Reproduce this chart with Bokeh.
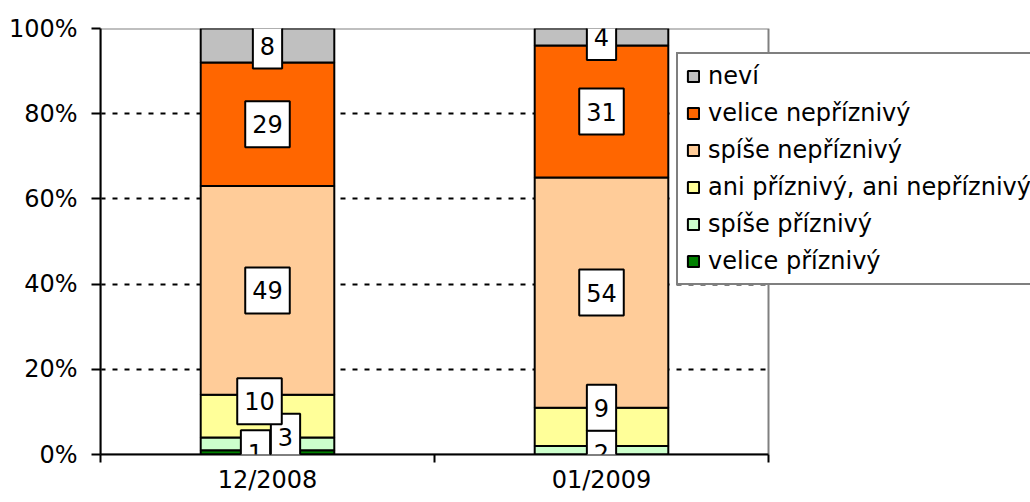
from bokeh.plotting import figure
from bokeh.models import (FixedTicker, Legend, LegendItem, Label, BoxAnnotation,
                          PrintfTickFormatter, ColumnDataSource, Range1d, LinearAxis)
from bokeh.embed import file_html
from bokeh.resources import INLINE

# ---- data ----
periods = ["12/2008", "01/2009"]
series = ["velice příznivý", "spíše příznivý", "ani příznivý, ani nepříznivý",
          "spíše nepříznivý", "velice nepříznivý", "neví"]
velice_priznivy = [1, 0]
spise_priznivy = [3, 2]
ani_ani = [10, 9]
spise_nepriznivy = [49, 54]
velice_nepriznivy = [29, 31]
nevi = [8, 4]
y_ticks = [0, 20, 40, 60, 80, 100]

values = [velice_priznivy, spise_priznivy, ani_ani, spise_nepriznivy, velice_nepriznivy, nevi]

# ---- styles / layout ----
colors = ["#008000", "#CCFFCC", "#FFFF99", "#FFCC99", "#FF6600", "#C0C0C0"]
FONT = "DejaVu Sans"
FS = "24px"
W, H = 1030, 502
LEFT, TOP, BOTTOM = 100, 28, 48
AREA_PX = 668                       # width of the plotted category area
FRAME_PX = W - LEFT                 # frame extends to the right edge (for legend)
# label displacement in screen pixels (series index, period index) -> (dx, dy)
label_shift = {(0, 0): (-12, -1), (1, 0): (18, 7), (2, 0): (-8, 15),
               (1, 1): (0, -3), (2, 1): (0, 19)}

n = len(periods)
xs = [i + 0.5 for i in range(n)]
keys = [f"s{i}" for i in range(len(series))]
data = {"x": xs}
for k, v in zip(keys, values):
    data[k] = v
source = ColumnDataSource(data)

p = figure(width=W, height=H, output_backend="svg", toolbar_location=None,
           x_range=Range1d(0, n * FRAME_PX / AREA_PX), y_range=Range1d(0, 100),
           min_border_left=LEFT, min_border_right=0, min_border_top=TOP,
           min_border_bottom=BOTTOM, x_axis_type=None)
p.outline_line_color = None
p.background_fill_color = "white"
p.border_fill_color = "white"

# plot-area border (gray)
p.add_layout(BoxAnnotation(left=0, right=n, bottom=0, top=100, fill_color=None,
                           line_color="#808080", line_alpha=1.0, line_width=2,
                           level="underlay"))

renderers = p.vbar_stack(keys, x="x", width=0.4, source=source, color=colors,
                         line_color="black", line_width=2)

# y axis
p.yaxis.ticker = FixedTicker(ticks=y_ticks)
p.yaxis.formatter = PrintfTickFormatter(format="%d%%")
p.yaxis.axis_line_width = 2
p.yaxis.axis_line_color = "black"
p.yaxis.major_tick_line_width = 2
p.yaxis.major_tick_in = 0
p.yaxis.major_tick_out = 9
p.yaxis.minor_tick_line_color = None
p.yaxis.major_label_standoff = 14
p.yaxis.major_label_text_font = FONT
p.yaxis.major_label_text_font_size = FS
p.yaxis.major_label_text_color = "black"

# x axis
xaxis = LinearAxis(ticker=FixedTicker(ticks=xs, minor_ticks=list(range(n + 1))),
                   bounds=(0, n))
xaxis.major_label_overrides = {x: lab for x, lab in zip(xs, periods)}
xaxis.axis_line_width = 2
xaxis.axis_line_color = "black"
xaxis.major_tick_line_color = None
xaxis.major_tick_in = 0
xaxis.major_tick_out = 0
xaxis.minor_tick_line_width = 2
xaxis.minor_tick_line_color = "black"
xaxis.minor_tick_in = 0
xaxis.minor_tick_out = 8
xaxis.major_label_standoff = 3
xaxis.major_label_text_font = FONT
xaxis.major_label_text_font_size = FS
xaxis.major_label_text_color = "black"
p.add_layout(xaxis, "below")

# grid
p.xgrid.grid_line_color = None
p.ygrid.ticker = FixedTicker(ticks=[t for t in y_ticks if 0 < t < 100])
p.ygrid.cross_bounds = (0, n)
p.ygrid.grid_line_color = "black"
p.ygrid.grid_line_width = 2
p.ygrid.grid_line_dash = "5 7"

# data labels
for si, vals in enumerate(values):
    base = [sum(values[j][pi] for j in range(si)) for pi in range(n)]
    for pi, v in enumerate(vals):
        if v <= 0:
            continue
        dx, dy = label_shift.get((si, pi), (0, 0))
        lab = Label(x=xs[pi], y=base[pi] + v / 2, text=str(v),
                    x_offset=dx, y_offset=dy,
                    text_align="center", text_baseline="middle",
                    text_font=FONT, text_font_size=FS, text_color="black",
                    background_fill_color="white", border_line_color="black",
                    border_line_width=2,
                    padding=dict(left=7, right=7, top=14, bottom=14))
        p.add_layout(lab)

# legend
items = [LegendItem(label=series[i], renderers=[renderers[i]]) for i in reversed(range(len(series)))]
legend = Legend(items=items, location=(576, 169), orientation="vertical",
                label_text_font=FONT, label_text_font_size=FS, label_text_color="black",
                glyph_width=14, glyph_height=14, label_height=27, label_standoff=8,
                spacing=9, padding=8, margin=0,
                border_line_color="black", border_line_width=2,
                background_fill_color="white", background_fill_alpha=1.0)
p.add_layout(legend, "center")

open("out.html", "w").write(file_html(p, INLINE))
